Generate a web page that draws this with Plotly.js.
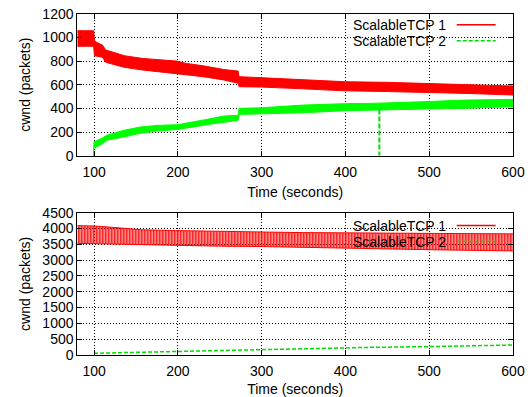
<!DOCTYPE html>
<html>
<head>
<meta charset="utf-8">
<script src="https://cdn.plot.ly/plotly-3.0.1.min.js"></script>
<style>html,body{margin:0;padding:0;background:#fff;}#chart{width:528px;height:397px;}</style>
</head>
<body>
<div id="chart"></div>
<script>
// ---- Data ----
const seriesNames = ["ScalableTCP 1", "ScalableTCP 2"];

// Top panel, ScalableTCP 1 band (time, lower and upper edge of the oscillation)
const topTcp1Time = [80, 99.5, 100.5, 104, 110, 114, 125, 136, 158, 198, 210, 230, 255, 272, 273, 300, 350, 400, 450, 500, 550, 600];
const topTcp1High = [1056, 1056, 972, 955, 935, 893, 870, 845, 822, 800, 780, 760, 728, 715, 668, 660, 640, 625, 620, 608, 600, 589];
const topTcp1Low  = [925, 925, 845, 840, 832, 789, 768, 747, 724, 696, 682, 668, 640, 612, 583, 580, 565, 548, 542, 535, 525, 513];

// Top panel, ScalableTCP 2 band
const topTcp2Time = [99.2, 99.6, 100, 110, 115, 135, 155, 175, 200, 235, 255, 272, 273, 300, 350, 400, 430, 500, 543, 600];
const topTcp2High = [0, 110, 118, 150, 172, 214, 242, 256, 262, 307, 335, 341, 400, 405, 428, 440, 442, 458, 470, 476];
const topTcp2Low  = [0, 50, 64, 100, 130, 158, 189, 208, 222, 262, 280, 299, 349, 352, 363, 380, 386, 395, 400, 414];

// Top panel, ScalableTCP 2 drop to zero
const topTcp2DropTime = [440.5, 440.5];
const topTcp2DropCwnd = [390, 0];

// Bottom panel, ScalableTCP 1 band
const botTcp1Time = [80, 100, 121, 157, 197, 255, 300, 350, 430, 500, 600];
const botTcp1High = [4090, 4080, 4040, 3960, 3935, 3900, 3890, 3870, 3850, 3840, 3830];
const botTcp1Low  = [3530, 3530, 3510, 3490, 3460, 3440, 3430, 3400, 3360, 3330, 3290];

// Bottom panel, ScalableTCP 2
const botTcp2Time = [100, 150, 200, 255, 300, 350, 430, 500, 550, 600];
const botTcp2Cwnd = [55, 85, 110, 137, 158, 190, 242, 265, 290, 316];

// Axis ticks
const xTicks = [100, 200, 300, 400, 500, 600];
const yTicksTop = [0, 200, 400, 600, 800, 1000, 1200];
const yTicksBot = [0, 500, 1000, 1500, 2000, 2500, 3000, 3500, 4000, 4500];

// ---- Styles ----
const RED = "#ff0000";
const GREEN = "#00ff00";
const FONT = {family: "Liberation Sans, Arial, sans-serif", size: 14, color: "#000"};

const traces = [
  {x: topTcp1Time, y: topTcp1Low, xaxis: "x", yaxis: "y", mode: "lines", line: {color: RED, width: 1}, showlegend: false, hoverinfo: "skip"},
  {x: topTcp1Time, y: topTcp1High, xaxis: "x", yaxis: "y", mode: "lines", line: {color: RED, width: 1}, fill: "tonexty", fillcolor: RED, showlegend: false, hoverinfo: "skip"},
  {x: topTcp2Time, y: topTcp2Low, xaxis: "x", yaxis: "y", mode: "lines", line: {color: GREEN, width: 1}, showlegend: false, hoverinfo: "skip"},
  {x: topTcp2Time, y: topTcp2High, xaxis: "x", yaxis: "y", mode: "lines", line: {color: GREEN, width: 1}, fill: "tonexty", fillcolor: GREEN, showlegend: false, hoverinfo: "skip"},
  {x: topTcp2DropTime, y: topTcp2DropCwnd, xaxis: "x", yaxis: "y", mode: "lines", line: {color: "#00e000", width: 2, dash: "5px,2px"}, showlegend: false, hoverinfo: "skip"},
  {x: botTcp1Time, y: botTcp1Low, xaxis: "x2", yaxis: "y2", mode: "lines", line: {color: RED, width: 1}, showlegend: false, hoverinfo: "skip"},
  {x: botTcp1Time, y: botTcp1High, xaxis: "x2", yaxis: "y2", mode: "lines", line: {color: RED, width: 1}, fill: "tonexty", fillcolor: "rgba(255,0,0,0.72)",
   fillpattern: {shape: "|", size: 3, solidity: 0.65, fgcolor: RED, bgcolor: "rgba(255,255,255,0)"}, showlegend: false, hoverinfo: "skip"},
  {x: botTcp2Time, y: botTcp2Cwnd, xaxis: "x2", yaxis: "y2", mode: "lines", line: {color: "#00dd00", width: 1.5, dash: "4px,2px"}, showlegend: false, hoverinfo: "skip"}
];

const xDom = [77.3 / 528, 513 / 528];
const yDomTop = [1 - 155.7 / 397, 1 - 13.7 / 397];
const yDomBot = [1 - 355 / 397, 1 - 212.7 / 397];

function xAxis(anchor, dom) {
  return {
    domain: dom, anchor: anchor, range: [80, 600], tickvals: xTicks, ticktext: xTicks.map(String),
    ticks: "inside", ticklen: 5, tickcolor: "#000", showline: true, linecolor: "#000", linewidth: 1, mirror: "ticks",
    showgrid: true, gridcolor: "#000", gridwidth: 1, griddash: "1px,2px", zeroline: false,
    tickfont: FONT, automargin: false, fixedrange: true, ticklabelstandoff: 3,
    title: {text: "Time (seconds)", font: FONT, standoff: 8}
  };
}
function yAxis(anchor, dom, range, ticks) {
  return {
    domain: dom, anchor: anchor, range: range, tickvals: ticks, ticktext: ticks.map(String),
    ticks: "inside", ticklen: 5, tickcolor: "#000", showline: true, linecolor: "#000", linewidth: 1, mirror: "ticks",
    showgrid: true, gridcolor: "#000", gridwidth: 1, griddash: "1px,2px", zeroline: false,
    tickfont: FONT, automargin: false, fixedrange: true,
    title: {text: "cwnd (packets)", font: FONT, standoff: 8}
  };
}

// legend geometry (paper coordinates)
const legTextX = 447 / 528;
const legLine = [456.7 / 528, 495.7 / 528];
const legRowsTop = [1 - 24.8 / 397, 1 - 40.8 / 397];
const legRowsBot = [1 - 225.6 / 397, 1 - 241.6 / 397];

const shapes = [
  {type: "rect", xref: "paper", yref: "paper", x0: 338 / 528, x1: xDom[1], y0: 1 - 46.5 / 397, y1: yDomTop[1], fillcolor: "#fff", line: {width: 0}, layer: "between"},
  {type: "rect", xref: "paper", yref: "paper", x0: 338 / 528, x1: xDom[1], y0: 1 - 244 / 397, y1: yDomBot[1], fillcolor: "#fff", line: {width: 0}, layer: "between"}
];
const annotations = [];
[legRowsTop, legRowsBot].forEach(rows => {
  seriesNames.forEach((name, i) => {
    annotations.push({xref: "paper", yref: "paper", x: legTextX, y: rows[i], text: name, showarrow: false, xanchor: "right", yanchor: "middle", font: FONT, borderpad: 0});
    shapes.push({type: "line", xref: "paper", yref: "paper", x0: legLine[0], x1: legLine[1], y0: rows[i], y1: rows[i],
      line: i === 0 ? {color: RED, width: 1.5} : {color: "#00dd00", width: 1.5, dash: "4px,2px"}, layer: "above"});
  });
});

const layout = {
  width: 528, height: 397, margin: {l: 0, r: 0, t: 0, b: 0},
  paper_bgcolor: "#fff", plot_bgcolor: "#fff", showlegend: false, font: FONT,
  xaxis: xAxis("y", xDom), yaxis: yAxis("x", yDomTop, [0, 1200], yTicksTop),
  xaxis2: xAxis("y2", xDom), yaxis2: yAxis("x2", yDomBot, [0, 4500], yTicksBot),
  shapes: shapes, annotations: annotations
};

Plotly.newPlot("chart", traces, layout, {displayModeBar: false, staticPlot: true});
</script>
</body>
</html>
